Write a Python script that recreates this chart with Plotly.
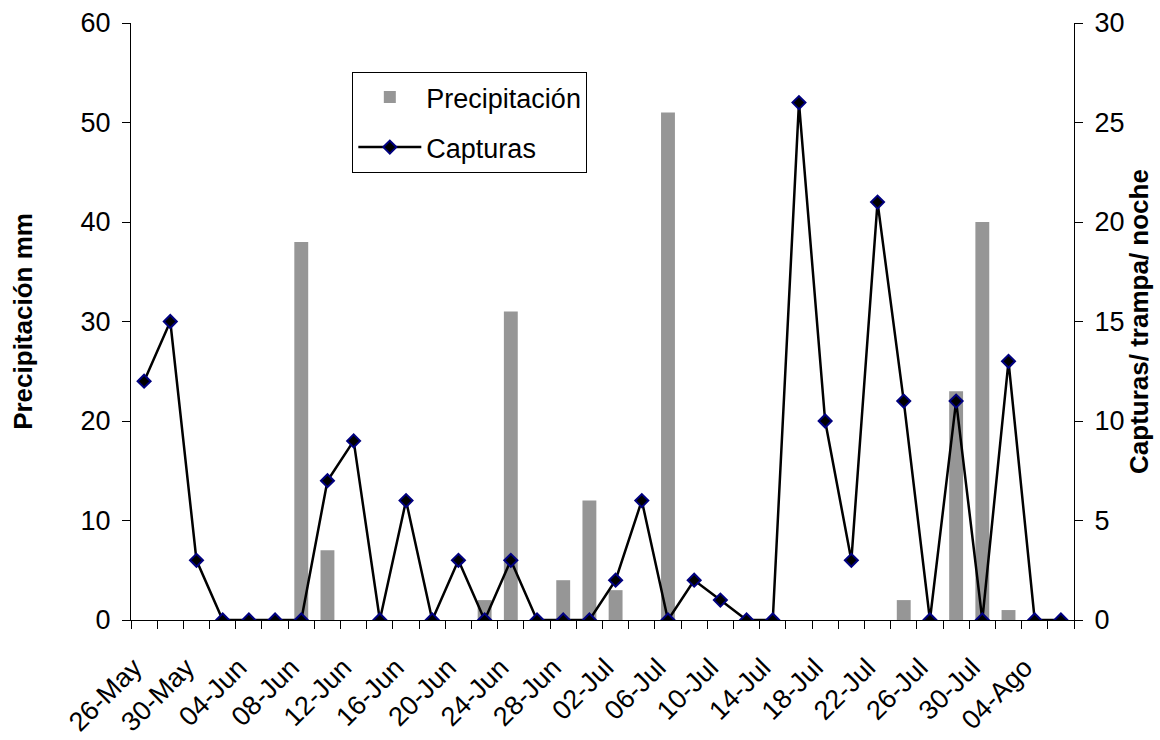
import plotly.graph_objects as go

fechas = ["26-May", "28-May", "30-May", "02-Jun", "04-Jun", "06-Jun", "08-Jun", "10-Jun",
          "12-Jun", "14-Jun", "16-Jun", "18-Jun", "20-Jun", "22-Jun", "24-Jun", "26-Jun",
          "28-Jun", "30-Jun", "02-Jul", "04-Jul", "06-Jul", "08-Jul", "10-Jul", "12-Jul",
          "14-Jul", "16-Jul", "18-Jul", "20-Jul", "22-Jul", "24-Jul", "26-Jul", "28-Jul",
          "30-Jul", "02-Ago", "04-Ago", "06-Ago"]

precipitacion = [0, 0, 0, 0, 0, 0, 38, 7, 0, 0, 0, 0, 0, 2, 31, 0, 4, 12, 3, 0,
                 51, 0, 0, 0, 0, 0, 0, 0, 0, 2, 0, 23, 40, 1, 0, 0]

capturas = [12, 15, 3, 0, 0, 0, 0, 7, 9, 0, 6, 0, 3, 0, 3, 0, 0, 0, 2, 6,
            0, 2, 1, 0, 0, 26, 10, 3, 21, 11, 0, 11, 0, 13, 0, 0]

etiquetas = [f if i % 2 == 0 else "" for i, f in enumerate(fechas)]

FONT = "Liberation Sans, Arial, sans-serif"

fig = go.Figure()
fig.add_trace(go.Bar(
    x=fechas, y=precipitacion, name="Precipitación",
    marker=dict(color="#969696", line=dict(width=0)),
    yaxis="y", legendgroup="a",
))
fig.add_trace(go.Scatter(
    x=fechas, y=capturas, name="Capturas", mode="lines+markers",
    line=dict(color="black", width=2.5),
    marker=dict(symbol="diamond", size=10, color="black",
                line=dict(color="#000080", width=2)),
    yaxis="y2", legendgroup="b",
))

common_axis = dict(showgrid=False, zeroline=False, tickcolor="black", tickwidth=1,
                   automargin=False)

fig.update_layout(
    width=1160, height=740,
    margin=dict(l=131, r=86, t=23, b=120),
    paper_bgcolor="white", plot_bgcolor="white",
    font=dict(family=FONT, size=27, color="black"),
    bargap=0.47,
    showlegend=True,
    legend=dict(
        x=0.2347, y=0.918, xanchor="left", yanchor="top",
        bgcolor="white", bordercolor="black", borderwidth=1,
        font=dict(family=FONT, size=27, color="black"),
        traceorder="grouped", tracegroupgap=12, itemwidth=63,
    ),
    xaxis=dict(
        type="category", categoryorder="array", categoryarray=fechas,
        range=[-0.5, len(fechas) - 0.5],
        tickmode="array", tickvals=fechas, ticktext=etiquetas,
        tickson="boundaries", ticks="outside", ticklen=8,
        tickangle=-45, tickfont=dict(size=27),
        ticklabelstandoff=20, ticklabelshift=-10,
        showline=True, linecolor="black", linewidth=1,
        anchor="y", **common_axis,
    ),
    xaxis2=dict(
        overlaying="x", anchor="y", side="bottom",
        range=[0, len(fechas)], tick0=0, dtick=1,
        ticks="inside", ticklen=8, showticklabels=False, showline=False,
        **common_axis,
    ),
    yaxis=dict(
        range=[0, 60], dtick=10, tick0=0,
        ticks="outside", ticklen=8, ticklabelstandoff=6,
        tickfont=dict(size=27),
        showline=True, linecolor="black", linewidth=1,
        title=dict(text="Precipitación mm", standoff=40,
                   font=dict(family=FONT, size=26, weight="bold")),
        **common_axis,
    ),
    yaxis2=dict(
        overlaying="y", side="right", anchor="x",
        range=[0, 30], dtick=5, tick0=0,
        ticks="outside", ticklen=8, ticklabelstandoff=6,
        tickfont=dict(size=27),
        showline=True, linecolor="black", linewidth=1,
        title=dict(text="Capturas/ trampa/ noche", standoff=1,
                   font=dict(family=FONT, size=26, weight="bold")),
        **common_axis,
    ),
    yaxis3=dict(
        overlaying="y", side="left", anchor="x",
        range=[0, 60], dtick=10, tick0=0,
        ticks="inside", ticklen=8, showticklabels=False, showline=False,
        **common_axis,
    ),
    yaxis4=dict(
        overlaying="y", side="right", anchor="x",
        range=[0, 30], dtick=5, tick0=0,
        ticks="inside", ticklen=8, showticklabels=False, showline=False,
        **common_axis,
    ),
)

fig.write_html(
    "out.html",
    config={"displayModeBar": False},
    post_script="document.body.style.margin='0';document.body.style.overflow='hidden';",
)
